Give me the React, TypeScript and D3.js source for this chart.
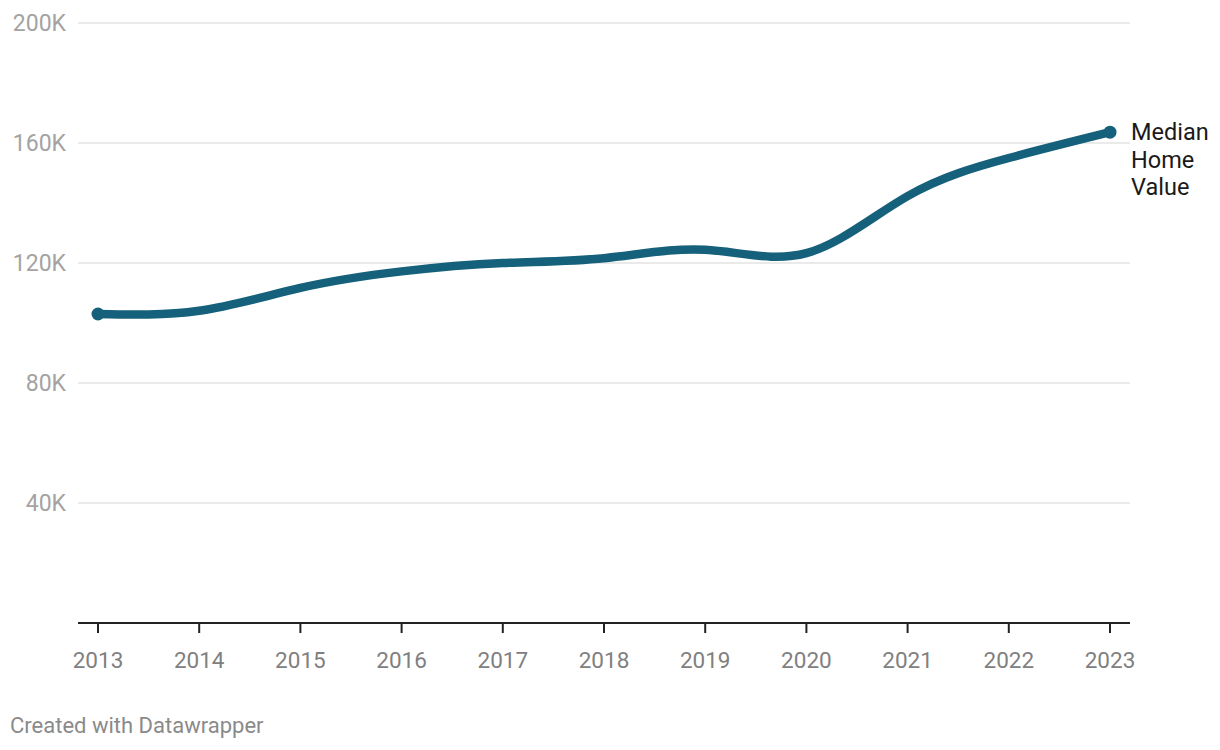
import { useEffect, useRef } from "react";
import * as d3 from "d3";

const years = [2013, 2014, 2015, 2016, 2017, 2018, 2019, 2020, 2021, 2022, 2023];
const medianHomeValue = [103000, 104100, 111700, 117200, 120000, 121600, 124400, 123300, 142300, 155000, 163600];
const yTicks = [40000, 80000, 120000, 160000, 200000];
const seriesLabel = ["Median", "Home", "Value"];

export default function App() {
  const svgRef = useRef<SVGSVGElement | null>(null);

  useEffect(() => {
    if (!svgRef.current) return;
    const svg = d3.select(svgRef.current);
    svg.selectAll("*").remove();

    const width = 1220;
    const height = 750;
    const font = "Roboto, 'Noto Sans', sans-serif";
    const lineColor = "#15607a";

    const x = d3.scaleLinear().domain([2013, 2023]).range([98, 1110]);
    const y = d3.scaleLinear().domain([0, 200000]).range([623, 23]);

    svg.attr("viewBox", `0 0 ${width} ${height}`);

    // grid
    svg.append("g")
      .selectAll("line")
      .data(yTicks)
      .join("line")
      .attr("x1", 78).attr("x2", 1130)
      .attr("y1", (d) => y(d)).attr("y2", (d) => y(d))
      .attr("stroke", "#e3e3e3")
      .attr("stroke-width", 1.5);

    // y labels
    svg.append("g")
      .selectAll("text")
      .data(yTicks)
      .join("text")
      .attr("x", 66)
      .attr("y", (d) => y(d))
      .attr("dy", "0.35em")
      .attr("text-anchor", "end")
      .attr("font-family", font)
      .attr("font-size", 23)
      .attr("fill", "#a3a3a3")
      .text((d) => `${d / 1000}K`);

    // x axis
    svg.append("line")
      .attr("x1", 78).attr("x2", 1130)
      .attr("y1", y(0)).attr("y2", y(0))
      .attr("stroke", "#222").attr("stroke-width", 2);

    const xAxis = svg.append("g");
    xAxis.selectAll("line")
      .data(years)
      .join("line")
      .attr("x1", (d) => x(d)).attr("x2", (d) => x(d))
      .attr("y1", y(0)).attr("y2", y(0) + 10)
      .attr("stroke", "#222").attr("stroke-width", 2);
    xAxis.selectAll("text")
      .data(years)
      .join("text")
      .attr("x", (d) => x(d))
      .attr("y", 668)
      .attr("text-anchor", "middle")
      .attr("font-family", font)
      .attr("font-size", 22.5)
      .attr("fill", "#808080")
      .text((d) => String(d));

    const pts = years.map((yr, i) => [yr, medianHomeValue[i]] as [number, number]);
    const line = d3.line<[number, number]>()
      .x((d) => x(d[0]))
      .y((d) => y(d[1]))
      .curve(d3.curveNatural);

    svg.append("path")
      .datum(pts)
      .attr("d", line)
      .attr("fill", "none")
      .attr("stroke", lineColor)
      .attr("stroke-width", 8.5)
      .attr("stroke-linecap", "round");

    const ends = [pts[0], pts[pts.length - 1]];
    svg.append("g")
      .selectAll("circle")
      .data(ends)
      .join("circle")
      .attr("cx", (d) => x(d[0]))
      .attr("cy", (d) => y(d[1]))
      .attr("r", 6.5)
      .attr("fill", lineColor);

    // series label
    const last = pts[pts.length - 1];
    svg.append("text")
      .attr("x", x(last[0]) + 21)
      .attr("y", y(last[1]) + 8)
      .attr("font-family", font)
      .attr("font-size", 23.5)
      .attr("fill", "#1a1a1a")
      .selectAll("tspan")
      .data(seriesLabel)
      .join("tspan")
      .attr("x", x(last[0]) + 21)
      .attr("dy", (_, i) => (i === 0 ? 0 : 27.5))
      .text((d) => d);

    svg.append("text")
      .attr("x", 10)
      .attr("y", 733)
      .attr("font-family", font)
      .attr("font-size", 22)
      .attr("fill", "#8a8a8a")
      .text("Created with Datawrapper");
  }, []);

  return (
    <svg
      ref={svgRef}
      width={1220}
      height={750}
      style={{ position: "absolute", left: 0, top: 0, background: "#fff" }}
    />
  );
}
